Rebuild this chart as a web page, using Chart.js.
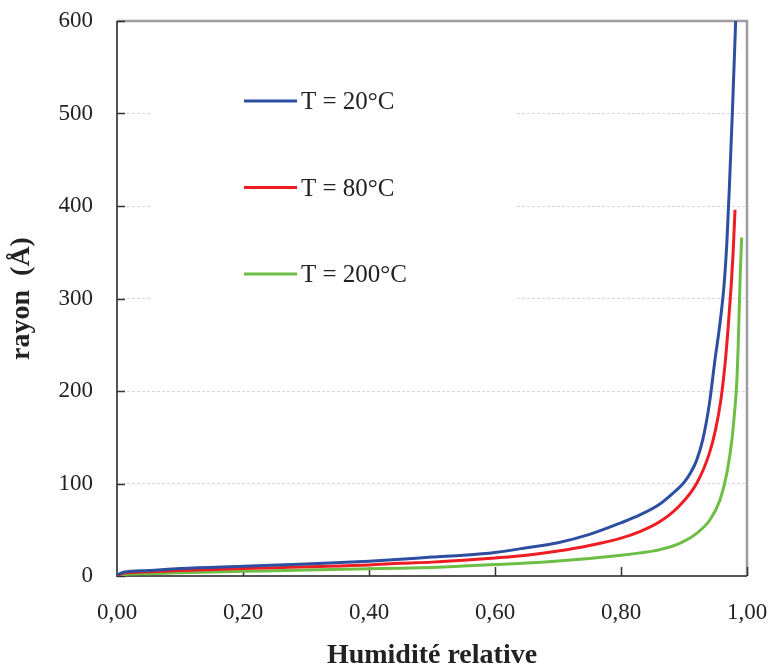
<!DOCTYPE html>
<html>
<head>
<meta charset="utf-8">
<script src="https://cdn.jsdelivr.net/npm/chart.js@4/dist/chart.umd.min.js"></script>
<style>
  html, body { margin: 0; padding: 0; background: #fff; }
  #wrap { width: 773px; height: 668px; }
</style>
</head>
<body>
<div id="wrap"><canvas id="c" width="773" height="668"></canvas></div>
<script>
// Pore radius (Å) versus relative humidity, three temperatures
const seriesLabels = ['T = 20°C', 'T = 80°C', 'T = 200°C'];
const seriesColors = ['#2D4FA1', '#EE1D23', '#6DBE45'];

const hr20 = [0, 0.01, 0.05, 0.10, 0.20, 0.30, 0.40, 0.45, 0.50, 0.55, 0.60, 0.65, 0.70, 0.75, 0.80, 0.83, 0.86, 0.88, 0.90, 0.91, 0.92, 0.93, 0.94, 0.95, 0.955, 0.96, 0.964, 0.968, 0.972, 0.977, 0.982];
const r20  = [1, 4, 6, 8, 10.5, 13, 16, 18, 20.5, 22.5, 25.5, 30.5, 36, 45, 57.5, 66, 77, 88, 101, 111, 125, 148, 185, 238, 262, 290, 318, 360, 420, 505, 600];

const hr80 = [0, 0.01, 0.05, 0.10, 0.20, 0.30, 0.40, 0.45, 0.50, 0.55, 0.60, 0.65, 0.70, 0.75, 0.80, 0.83, 0.86, 0.89, 0.92, 0.94, 0.95, 0.958, 0.965, 0.97, 0.975, 0.978, 0.981];
const r80  = [0.5, 3, 4.5, 6, 8, 10, 12, 13.7, 15, 17, 19.5, 22.5, 27, 33, 41, 48, 58, 74, 100, 132, 158, 188, 228, 268, 315, 350, 396];

const hr200 = [0, 0.01, 0.05, 0.10, 0.20, 0.30, 0.40, 0.45, 0.50, 0.55, 0.60, 0.65, 0.70, 0.75, 0.80, 0.83, 0.862, 0.894, 0.92, 0.941, 0.957, 0.968, 0.976, 0.981, 0.984, 0.986, 0.989, 0.9915];
const r200  = [0.3, 1.5, 2.5, 3.5, 5, 6.5, 7.8, 8.3, 9.3, 10.8, 12.5, 14, 16.2, 19, 22.4, 25, 28.5, 35.5, 46, 60.5, 82, 111, 147, 183, 212, 248, 320, 366];

const xTickValues = [0, 0.2, 0.4, 0.6, 0.8, 1.0];
const yTickValues = [0, 100, 200, 300, 400, 500, 600];

const xTitle = 'Humidité relative';
const yTitle = 'rayon  (Å)';

const FONT = "'Liberation Serif', 'Times New Roman', serif";

function toPoints(xs, ys) {
  return xs.map((v, i) => ({ x: v, y: ys[i] }));
}

const seriesX = [hr20, hr80, hr200];
const seriesY = [r20, r80, r200];

const datasets = seriesLabels.map((lab, i) => ({
  label: lab,
  data: toPoints(seriesX[i], seriesY[i]),
  borderColor: seriesColors[i],
  backgroundColor: seriesColors[i],
  borderWidth: 3,
  pointRadius: 0,
  fill: false,
  cubicInterpolationMode: 'monotone'
}));

// Axes frame, inward tick marks, and the legend block with its white backdrop
const framePlugin = {
  id: 'frame',
  beforeDatasetsDraw(chart) {
    const { ctx, chartArea: a, scales: { x, y } } = chart;
    ctx.save();
    // legend backdrop hides the grid lines behind it
    ctx.fillStyle = '#ffffff';
    ctx.fillRect(a.left + 33, a.top + 34, 365, 275);

    // top and right border
    ctx.strokeStyle = '#9d9d9d';
    ctx.lineWidth = 2.5;
    ctx.beginPath();
    ctx.moveTo(a.left, a.top);
    ctx.lineTo(a.right, a.top);
    ctx.lineTo(a.right, a.bottom);
    ctx.stroke();

    // left and bottom axis lines
    ctx.strokeStyle = '#555555';
    ctx.lineWidth = 2;
    ctx.beginPath();
    ctx.moveTo(a.left, a.top);
    ctx.lineTo(a.left, a.bottom);
    ctx.lineTo(a.right, a.bottom);
    ctx.stroke();

    // inward ticks
    ctx.strokeStyle = '#333333';
    ctx.lineWidth = 1.5;
    ctx.beginPath();
    yTickValues.forEach(v => {
      const py = Math.round(y.getPixelForValue(v)) + 0.5;
      ctx.moveTo(a.left, py);
      ctx.lineTo(a.left + 8, py);
    });
    xTickValues.forEach(v => {
      if (v === 0) return;
      const px = Math.round(x.getPixelForValue(v)) + 0.5;
      ctx.moveTo(px, a.bottom);
      ctx.lineTo(px, a.bottom - 9);
    });
    ctx.stroke();
    ctx.restore();
  },
  afterDatasetsDraw(chart) {
    const { ctx, chartArea: a } = chart;
    ctx.save();
    ctx.font = '25px ' + FONT;
    ctx.textAlign = 'left';
    ctx.textBaseline = 'alphabetic';
    chart.data.datasets.forEach((ds, i) => {
      const ly = a.top + 80 + i * 86.5;
      ctx.strokeStyle = ds.borderColor;
      ctx.lineWidth = 3;
      ctx.beginPath();
      ctx.moveTo(a.left + 127, ly);
      ctx.lineTo(a.left + 180, ly);
      ctx.stroke();
      ctx.fillStyle = '#222222';
      ctx.fillText(ds.label, a.left + 184, ly + 8);
    });
    ctx.restore();
  }
};

Chart.defaults.font.family = FONT;

new Chart(document.getElementById('c'), {
  type: 'line',
  data: { datasets },
  plugins: [framePlugin],
  options: {
    responsive: false,
    animation: false,
    devicePixelRatio: 1,
    layout: { padding: { left: 0, right: 26, top: 21, bottom: 0 } },
    plugins: {
      legend: { display: false },
      tooltip: { enabled: false }
    },
    scales: {
      x: {
        type: 'linear',
        min: 0,
        max: 1,
        afterBuildTicks: s => { s.ticks = xTickValues.map(v => ({ value: v })); },
        afterFit: s => { s.height = 92; s.paddingLeft = 0; s.paddingRight = 0; },
        ticks: {
          color: '#222222',
          font: { size: 23 },
          padding: 15,
          maxRotation: 0,
          callback: v => Number(v).toFixed(2).replace('.', ',')
        },
        grid: { display: false },
        border: { display: false },
        title: {
          display: true,
          text: xTitle,
          color: '#222222',
          font: { size: 28, weight: 'bold' },
          padding: { top: 0, bottom: -5 }
        }
      },
      y: {
        type: 'linear',
        min: 0,
        max: 600,
        afterBuildTicks: s => { s.ticks = yTickValues.map(v => ({ value: v })); },
        afterFit: s => { s.width = 117; s.paddingTop = 0; s.paddingBottom = 0; },
        ticks: {
          color: '#222222',
          font: { size: 23 },
          padding: 24,
          callback: v => String(v)
        },
        grid: {
          drawTicks: false,
          lineWidth: 1,
          color: ctx => (ctx.tick && (ctx.tick.value === 0 || ctx.tick.value === 600)) ? 'rgba(0,0,0,0)' : '#d2d8e8'
        },
        border: { display: false, dash: [3, 2] },
        title: {
          display: true,
          text: yTitle,
          color: '#222222',
          font: { size: 28, weight: 'bold' },
          padding: { top: 5, bottom: 0 }
        }
      }
    }
  }
});
</script>
</body>
</html>
